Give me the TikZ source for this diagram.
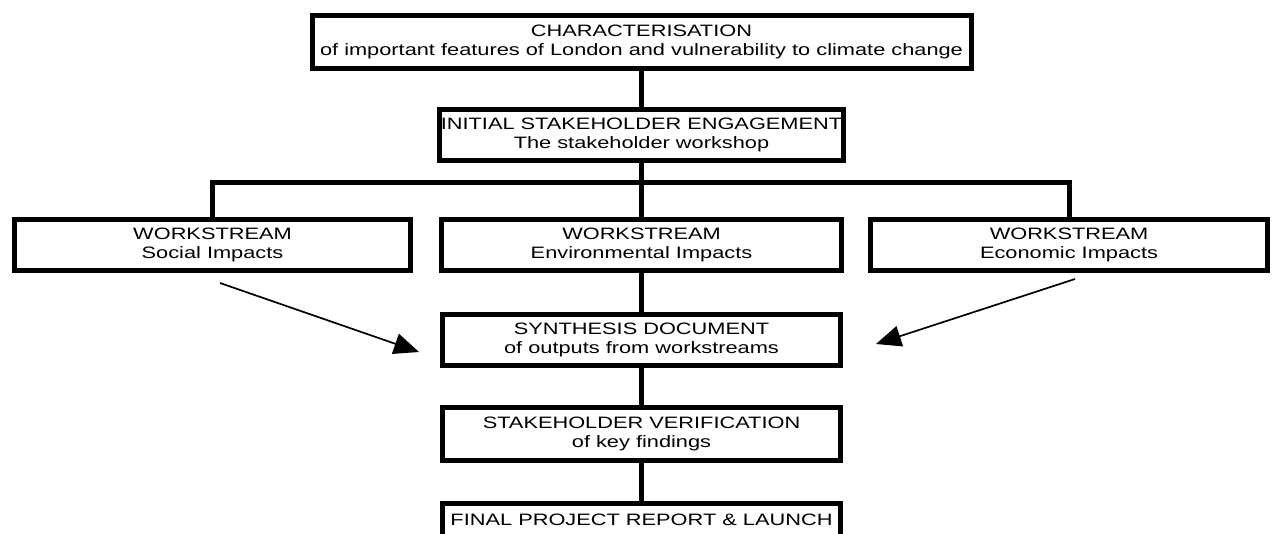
\documentclass[tikz,border=0pt]{standalone}
\usepackage{fontspec}
\setmainfont[FakeStretch=1.32]{Liberation Sans}
\usetikzlibrary{arrows.meta}
\tikzset{
  stage/.style={draw,line width=5pt,align=center,inner xsep=1pt,inner ysep=0pt,minimum height=51pt,font=\fontsize{16.5}{19}\selectfont},
  link/.style={line width=5pt},
  feed/.style={line width=1.7pt,-{Triangle[length=25pt,width=21pt]}}
}
\begin{document}
\begin{tikzpicture}[x=1pt,y=-1pt]
      \useasboundingbox (0,0) rectangle (1273,533);
      \node[stage,minimum width=659pt,minimum height=53pt] (charact) at (641.5,42) {CHARACTERISATION\\of important features of London and vulnerability to climate change};
      \node[stage,minimum width=402pt] (engage) at (641.5,135) {INITIAL STAKEHOLDER ENGAGEMENT\\The stakeholder workshop};
      \node[stage,minimum width=396pt] (social) at (212.5,245) {WORKSTREAM\\Social Impacts};
      \node[stage,minimum width=400pt] (env) at (641.5,245) {WORKSTREAM\\Environmental Impacts};
      \node[stage,minimum width=397pt] (econ) at (1069,245) {WORKSTREAM\\Economic Impacts};
      \node[stage,minimum width=398pt] (synth) at (641.5,340) {SYNTHESIS DOCUMENT\\of outputs from workstreams};
      \node[stage,minimum width=398pt,minimum height=53pt] (verify) at (641.5,434) {STAKEHOLDER VERIFICATION\\of key findings};
      \node[stage,minimum width=398pt,anchor=north,text height=22pt,text depth=32pt] (final) at (641.5,500.5) {FINAL PROJECT REPORT \& LAUNCH};
      \coordinate (fork) at (641.5,182.5);
      \draw[link] (charact) -- (engage);
      \draw[link] (engage) -- (env);
      \draw[link] (social) |- (fork) -| (econ);
      \draw[link] (env) -- (synth);
      \draw[link] (synth) -- (verify);
      \draw[link] (verify) -- (final);
      \coordinate (socialtail) at (220,283);
      \coordinate (socialtip) at (419,352);
      \coordinate (econtail) at (1075,279);
      \coordinate (econtip) at (876,344);
      \draw[feed] (socialtail) -- (socialtip);
      \draw[feed] (econtail) -- (econtip);
    \end{tikzpicture}
\end{document}
